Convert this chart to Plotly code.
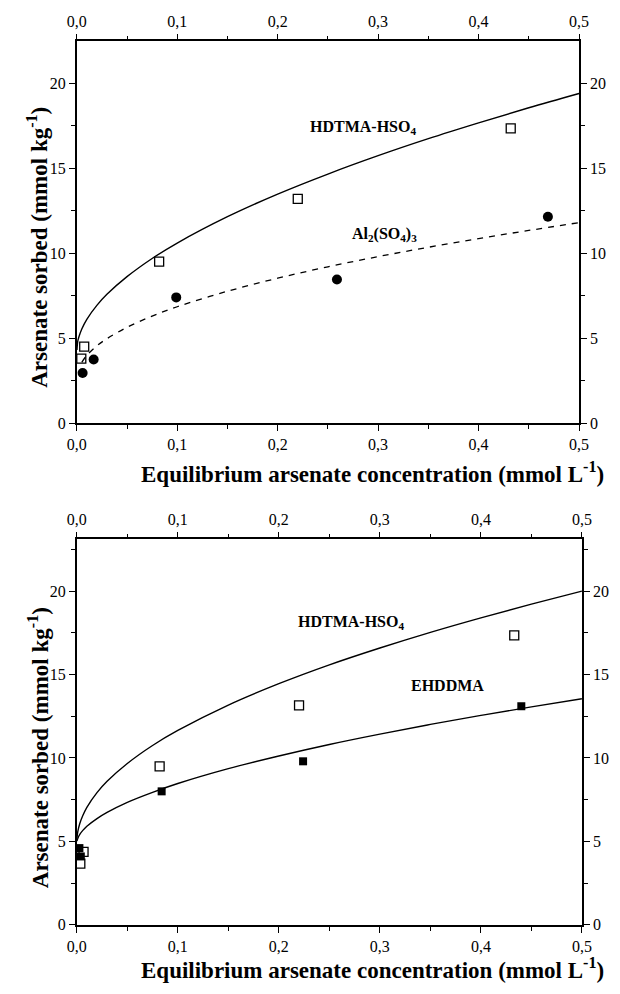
import plotly.graph_objects as go

# ---------------- data ----------------
# Top panel: HDTMA-HSO4 (open squares) and Al2(SO4)3 (filled circles)
top_hdtma_x = [0.0045, 0.0074, 0.082, 0.220, 0.432]
top_hdtma_y = [3.80, 4.50, 9.50, 13.20, 17.35]
top_al_x = [0.0058, 0.0168, 0.099, 0.259, 0.469]
top_al_y = [2.95, 3.74, 7.40, 8.45, 12.15]

top_fit_hdtma_x = [0.0002, 0.001, 0.002, 0.005, 0.01, 0.02, 0.03, 0.05, 0.075, 0.1, 0.15, 0.2, 0.25, 0.3, 0.35, 0.4, 0.45, 0.5]
top_fit_hdtma_y = [4.30, 4.82, 5.05, 5.54, 6.11, 6.93, 7.58, 8.62, 9.69, 10.60, 12.15, 13.48, 14.66, 15.74, 16.74, 17.67, 18.56, 19.40]
top_fit_al_x = [0.005, 0.01, 0.02, 0.03, 0.05, 0.075, 0.1, 0.15, 0.2, 0.25, 0.3, 0.35, 0.4, 0.45, 0.5]
top_fit_al_y = [3.58, 3.99, 4.55, 4.97, 5.64, 6.30, 6.85, 7.76, 8.53, 9.20, 9.80, 10.35, 10.86, 11.34, 11.80]

# Bottom panel: HDTMA-HSO4 (open squares) and EHDDMA (filled squares)
bot_hdtma_x = [0.0035, 0.0067, 0.082, 0.220, 0.433]
bot_hdtma_y = [3.67, 4.37, 9.50, 13.15, 17.35]
bot_eh_x = [0.0026, 0.0040, 0.084, 0.224, 0.440]
bot_eh_y = [4.60, 4.10, 8.00, 9.80, 13.10]

bot_fit_hdtma_x = [0.0002, 0.001, 0.003, 0.006, 0.01, 0.02, 0.03, 0.05, 0.075, 0.1, 0.15, 0.2, 0.25, 0.3, 0.35, 0.4, 0.45, 0.5]
bot_fit_hdtma_y = [5.20, 5.58, 6.07, 6.55, 7.04, 7.92, 8.60, 9.67, 10.75, 11.65, 13.17, 14.45, 15.58, 16.59, 17.53, 18.40, 19.22, 20.00]
bot_fit_eh_x = [0.0002, 0.001, 0.003, 0.006, 0.01, 0.02, 0.03, 0.05, 0.075, 0.1, 0.15, 0.2, 0.25, 0.3, 0.35, 0.4, 0.45, 0.5]
bot_fit_eh_y = [5.02, 5.18, 5.42, 5.66, 5.91, 6.37, 6.74, 7.34, 7.94, 8.47, 9.36, 10.12, 10.81, 11.43, 12.01, 12.55, 13.06, 13.55]

x_ticks = [0, 0.1, 0.2, 0.3, 0.4, 0.5]
y_ticks = [0, 5, 10, 15, 20]

x_title = "Equilibrium arsenate concentration (mmol L<sup>-1</sup>)"
y_title = "Arsenate sorbed (mmol kg<sup>-1</sup>)"

FONT = "Liberation Serif"
W, H = 620, 994

def px_x(p):
    return p / W

def px_y(p):
    return 1 - p / H

fig = go.Figure()

open_sq = dict(symbol="square-open", size=9, color="black", line=dict(width=1.3, color="black"))
fill_sq = dict(symbol="square", size=8, color="black", line=dict(width=0))
fill_ci = dict(symbol="circle", size=10, color="black", line=dict(width=0))

# top panel
fig.add_trace(go.Scatter(x=top_fit_hdtma_x, y=top_fit_hdtma_y, mode="lines", line=dict(color="black", width=1.4, shape="spline"), xaxis="x", yaxis="y", hoverinfo="skip"))
fig.add_trace(go.Scatter(x=top_fit_al_x, y=top_fit_al_y, mode="lines", line=dict(color="black", width=1.3, dash="6px,6px", shape="spline"), xaxis="x", yaxis="y", hoverinfo="skip"))
fig.add_trace(go.Scatter(x=top_hdtma_x, y=top_hdtma_y, mode="markers", marker=open_sq, xaxis="x", yaxis="y", cliponaxis=False))
fig.add_trace(go.Scatter(x=top_al_x, y=top_al_y, mode="markers", marker=fill_ci, xaxis="x", yaxis="y", cliponaxis=False))
fig.add_trace(go.Scatter(x=top_hdtma_x, y=top_hdtma_y, mode="markers", marker=dict(opacity=0), xaxis="x3", yaxis="y3", hoverinfo="skip"))

# bottom panel
fig.add_trace(go.Scatter(x=bot_fit_hdtma_x, y=bot_fit_hdtma_y, mode="lines", line=dict(color="black", width=1.4, shape="spline"), xaxis="x2", yaxis="y2", hoverinfo="skip"))
fig.add_trace(go.Scatter(x=bot_fit_eh_x, y=bot_fit_eh_y, mode="lines", line=dict(color="black", width=1.4, shape="spline"), xaxis="x2", yaxis="y2", hoverinfo="skip"))
fig.add_trace(go.Scatter(x=bot_hdtma_x, y=bot_hdtma_y, mode="markers", marker=open_sq, xaxis="x2", yaxis="y2", cliponaxis=False))
fig.add_trace(go.Scatter(x=bot_eh_x, y=bot_eh_y, mode="markers", marker=fill_sq, xaxis="x2", yaxis="y2", cliponaxis=False))
fig.add_trace(go.Scatter(x=bot_hdtma_x, y=bot_hdtma_y, mode="markers", marker=dict(opacity=0), xaxis="x4", yaxis="y4", hoverinfo="skip"))

tickfont = dict(family=FONT, size=16, color="black")

def xax(domain, anchor, side, rng, overlaying=None):
    d = dict(domain=domain, anchor=anchor, side=side, range=rng,
             tickvals=x_ticks, tickformat=".1f",
             showline=True, linecolor="black", linewidth=1.5,
             ticks="outside", ticklen=6, tickwidth=1.4, tickcolor="black",
             minor=dict(ticks="outside", ticklen=4, tickwidth=1.2, tickcolor="black", dtick=0.05, showgrid=False),
             showgrid=False, zeroline=False, tickfont=tickfont, fixedrange=True)
    if overlaying:
        d["overlaying"] = overlaying
    return d

def yax(domain, anchor, side, rng, overlaying=None):
    d = dict(domain=domain, anchor=anchor, side=side, range=rng,
             tickvals=y_ticks,
             showline=True, linecolor="black", linewidth=1.5,
             ticks="outside", ticklen=6, tickwidth=1.4, tickcolor="black",
             minor=dict(ticks="outside", ticklen=4, tickwidth=1.2, tickcolor="black", dtick=2.5, showgrid=False),
             showgrid=False, zeroline=False, tickfont=tickfont, fixedrange=True)
    if overlaying:
        d["overlaying"] = overlaying
    return d

top_xd = [px_x(69), px_x(588)]
top_yd = [px_y(427), px_y(41.7)]
bot_xd = [px_x(69), px_x(591)]
bot_yd = [px_y(933.3), px_y(544.3)]

top_yr = [0, 22.47]
bot_yr = [0, 23.1]

fig.update_layout(
    width=W, height=H, autosize=False,
    margin=dict(l=0, r=0, t=0, b=0),
    paper_bgcolor="white", plot_bgcolor="white",
    showlegend=False, separators=",.",
    font=dict(family=FONT, color="black"),
    xaxis=xax(top_xd, "y", "bottom", [0, 0.5]),
    yaxis=yax(top_yd, "x", "left", top_yr),
    xaxis3=xax(top_xd, "y", "top", [0, 0.5], overlaying="x"),
    yaxis3=yax(top_yd, "x", "right", top_yr, overlaying="y"),
    xaxis2=xax(bot_xd, "y2", "bottom", [0, 0.5]),
    yaxis2=yax(bot_yd, "x2", "left", bot_yr),
    xaxis4=xax(bot_xd, "y2", "top", [0, 0.5], overlaying="x2"),
    yaxis4=yax(bot_yd, "x2", "right", bot_yr, overlaying="y2"),
)

tfont = dict(family=FONT, size=23, color="black")
lfont = dict(family=FONT, size=16, color="black")
anns = [
    dict(text="<b>" + x_title + "</b>", x=px_x(375), y=px_y(477), xref="paper", yref="paper", showarrow=False, font=tfont, xanchor="center", yanchor="middle"),
    dict(text="<b>" + x_title + "</b>", x=px_x(375), y=px_y(977), xref="paper", yref="paper", showarrow=False, font=tfont, xanchor="center", yanchor="middle"),
    dict(text="<b>" + y_title + "</b>", x=px_x(29), y=px_y(250), xref="paper", yref="paper", showarrow=False, font=tfont, textangle=-90, xanchor="center", yanchor="middle"),
    dict(text="<b>" + y_title + "</b>", x=px_x(29), y=px_y(755), xref="paper", yref="paper", showarrow=False, font=tfont, textangle=-90, xanchor="center", yanchor="middle"),
    dict(text="<b>HDTMA-HSO<sub>4</sub></b>", x=px_x(365), y=px_y(129), xref="paper", yref="paper", showarrow=False, font=lfont, xanchor="center", yanchor="middle"),
    dict(text="<b>Al<sub>2</sub>(SO<sub>4</sub>)<sub>3</sub></b>", x=px_x(387), y=px_y(237), xref="paper", yref="paper", showarrow=False, font=lfont, xanchor="center", yanchor="middle"),
    dict(text="<b>HDTMA-HSO<sub>4</sub></b>", x=px_x(352), y=px_y(628), xref="paper", yref="paper", showarrow=False, font=lfont, xanchor="center", yanchor="middle"),
    dict(text="<b>EHDDMA</b>", x=px_x(452), y=px_y(692), xref="paper", yref="paper", showarrow=False, font=lfont, xanchor="center", yanchor="middle"),
]
fig.update_layout(annotations=anns)

fig.write_html("out.html")
